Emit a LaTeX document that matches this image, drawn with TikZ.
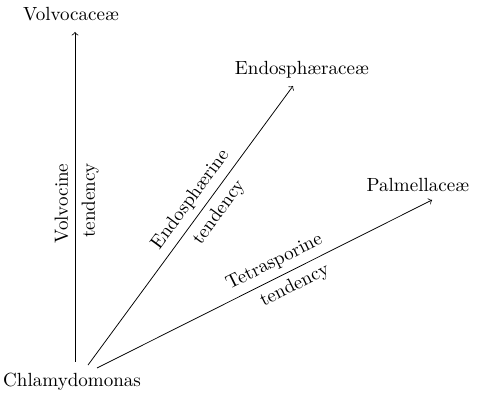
\documentclass[tikz,border=0pt]{standalone}
\begin{document}
\begin{tikzpicture}[tend/.style={->, thin}]

  \useasboundingbox (0,0) rectangle (8.875,7.362);
  %\draw[step=1cm,gray,very thin] (0,0) grid (9,7);

  % ***************** GROUPS *****************
  \node (chlamy) at (1.33,0.31) {Chlamydomonas};
  \node (volvo) at (1.31,7.10) {Volvocace\ae};
  \node (endo) at (5.57,6.07) {Endosph\ae race\ae};
  \node (palm) at (7.71,3.95) {Palmellace\ae};

  % ***************** ENDS *****************
  \coordinate (volvoStart) at (1.384,0.683);
  \coordinate (volvoTip) at (1.384,6.772);
  \coordinate (endoStart) at (1.624,0.627);
  \coordinate (endoTip) at (5.406,5.775);
  \coordinate (palmStart) at (1.790,0.572);
  \coordinate (palmTip) at (7.971,3.672);

  % ***************** TENDENCIES *****************
  \draw[tend] (volvoStart) -- (volvoTip)
    node[pos=0.48, sloped, above] {Volvocine}
    node[pos=0.49, sloped, below] {tendency};

  \draw[tend] (endoStart) -- (endoTip)
    node[pos=0.56, sloped, above] {Endosph\ae rine}
    node[pos=0.58, sloped, below] {tendency};

  \draw[tend] (palmStart) -- (palmTip)
    node[pos=0.55, sloped, above] {Tetrasporine}
    node[pos=0.57, sloped, below] {tendency};

\end{tikzpicture}
\end{document}
